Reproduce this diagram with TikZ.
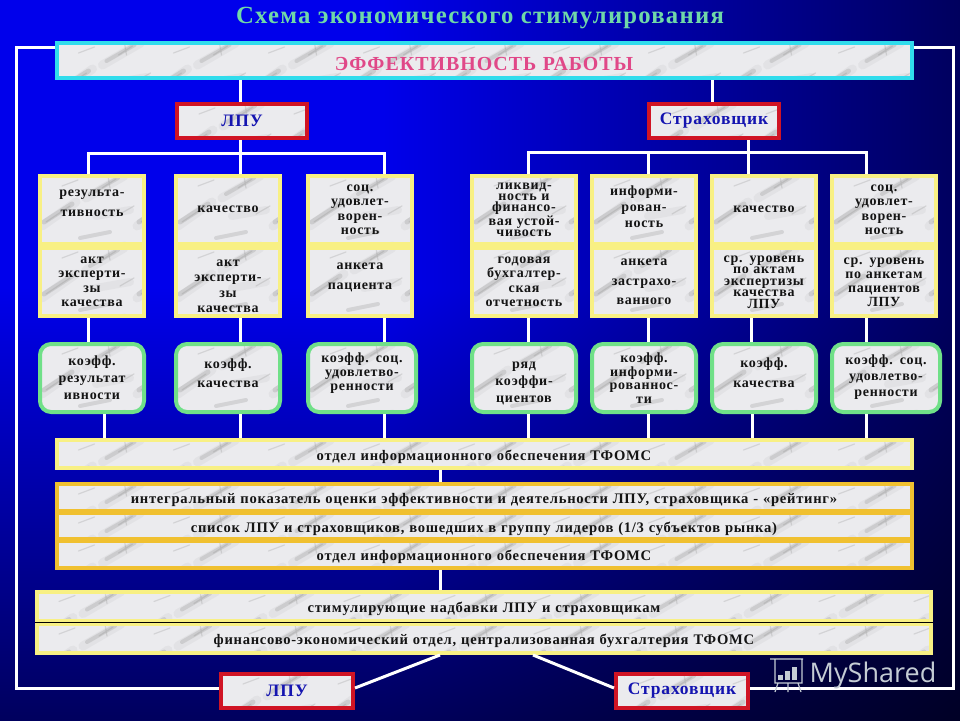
\documentclass[tikz,border=0pt]{standalone}
\usepackage{fontspec}
\setmainfont[LetterSpace=5]{Liberation Serif}
\newfontfamily\markfont{Open Sans}
\usetikzlibrary{positioning}
\definecolor{marblebase}{HTML}{EBEBEE}
\definecolor{cyanline}{HTML}{30DCEC}
\definecolor{redline}{HTML}{D01424}
\definecolor{yellowline}{HTML}{F8F084}
\definecolor{orangeline}{HTML}{F0C030}
\definecolor{greenline}{HTML}{70E088}
\definecolor{titlecolor}{HTML}{70D8A8}
\definecolor{pinktext}{HTML}{E04888}
\definecolor{navytext}{HTML}{1414B0}
\definecolor{marktext}{HTML}{C4CCD4}
\pgfdeclarefunctionalshading{slidebg}{\pgfpoint{0bp}{0bp}}{\pgfpoint{100bp}{100bp}}{}{
  exch 100 div 0.95 exch sub 0.5 div dup 0 lt {pop 0} if dup 1 gt {pop 1} if
  exch 100 div 0.05 sub 0.5 div dup 0 lt {pop 0} if dup 1 gt {pop 1} if
  mul 0.92 mul 0 exch 0 exch
}
\newcommand{\marbletile}{
  \draw[streak,line width=9pt,opacity=.08] (2,50) -- (36,26);
  \draw[streak,line width=5pt] (4,46) -- (32,28);
  \draw[streak] (6,46) -- (30,30);
  \draw[streak,line width=9pt,opacity=.08] (46,22) -- (84,0);
  \draw[streak,line width=4pt] (50,18) -- (78,2);
  \draw[streak] (62,12) -- (76,3) (68,0) -- (70,12);
  \draw[streak,line width=4pt] (40,62) -- (70,56);
  \draw[streak,line width=8pt,opacity=.08] (56,40) -- (90,34);
  \draw[streak] (80,38) -- (94,30);
  \draw[streak] (22,10) -- (38,4);
}
\tikzset{
  streak/.style={draw=gray,opacity=.22,line width=1.2pt,line cap=round},
  marble/.style={fill=marblebase,path picture={
    \foreach \tx in {0,95,...,855}
      \foreach \ty in {0,70} {
        \begin{scope}
          \pgftransformshift{\pgfpointanchor{path picture bounding box}{north west}}
          \pgftransformshift{\pgfpoint{\tx pt}{-\ty pt}}
          \marbletile
        \end{scope}
      }}},
  boxtext/.style={font=\fontsize{14}{#1}\selectfont\bfseries,text=black!92,align=center},
  boxtext/.default=15,
  up/.style={execute at end node={\par\vspace*{#1pt}}},
  down/.style={execute at begin node={\vspace*{#1pt}\par}},
  cell/.style={rectangle,draw=yellowline,line width=4pt,marble,inner sep=0pt,
    minimum width=104pt,minimum height=68pt,text width=104pt,boxtext=#1},
  cell/.default=15,
  coeff/.style={cell=#1,draw=greenline,rounded corners=11pt},
  coeff/.default=15,
  bar/.style={rectangle,draw=yellowline,line width=4pt,marble,inner sep=0pt,
    minimum width=855pt,minimum height=28pt,text width=800pt,align=center,down=0,
    font=\fontsize{14.6}{16}\selectfont\bfseries,text=black!92},
  head/.style={rectangle,draw=redline,line width=4pt,marble,inner sep=0pt,
    minimum width=130pt,minimum height=34pt,
    font=\fontsize{17.5}{19}\selectfont\bfseries,text=navytext},
  wire/.style={draw=white,line width=3pt},
}
\begin{document}
\begin{tikzpicture}[x=1pt,y=-1pt]
  \useasboundingbox (0,0) rectangle (960,720);
  \shade[shading=slidebg] (0,0) rectangle (960,720);

  \node (title) at (480,18) [font=\fontsize{24.7}{26}\selectfont\bfseries,text=titlecolor] {Схема экономического стимулирования};

  \node (eff) at (484,60.5) [rectangle,draw=cyanline,line width=4pt,marble,inner sep=0pt,minimum width=855pt,minimum height=35pt,
    text width=800pt,align=center,down=0,font=\fontsize{19.9}{21}\selectfont\bfseries,text=pinktext] {ЭФФЕКТИВНОСТЬ РАБОТЫ};
  \node[head] (lpuT) at (242,121) {ЛПУ};
  \node[head] (insT) at (714,121) {Страховщик};

  % left columns
  \node[cell=20,up=14] (a1) at (92,210) {результа-\\тивность};
  \node[cell,up=2] (a2) at (228,210) {качество};
  \node[cell=14.5] (a3) at (360,210) {соц.\\удовлет-\\ворен-\\ность};
  \node[cell=14.5] (b1) at (92,282) {акт\\эксперти-\\зы\\качества};
  \node[cell=15.5,down=0] (b2) at (228,282) {акт\\эксперти-\\зы\\качества};
  \node[cell=20,up=10] (b3) at (360,282) {анкета\\пациента};
  % right columns
  \node[cell=11.3] (a4) at (524,210) {ликвид-\\ность и\\финансо-\\вая устой-\\чивость};
  \node[cell=16,up=6] (a5) at (644,210) {информи-\\рован-\\ность};
  \node[cell,up=2] (a6) at (764,210) {качество};
  \node[cell=14.5] (a7) at (884,210) {соц.\\удовлет-\\ворен-\\ность};
  \node[cell=14.5] (b4) at (524,282) {годовая\\бухгалтер-\\ская\\отчетность};
  \node[cell=19.5] (b5) at (644,282) {анкета\\застрахо-\\ванного};
  \node[cell=11.5] (b6) at (764,282) {ср. уровень\\по актам\\экспертизы\\качества\\ЛПУ};
  \node[cell=14] (b7) at (884,282) {ср. уровень\\по анкетам\\пациентов\\ЛПУ};
  % coefficients
  \node[coeff=17] (c1) at (92,378) {коэфф.\\результат\\ивности};
  \node[coeff=19,up=10] (c2) at (228,378) {коэфф.\\качества};
  \node[coeff=14,minimum width=108pt,up=10] (c3) at (362,378) {коэфф. соц.\\удовлетво-\\ренности};
  \node[coeff=17,down=0] (c4) at (524,378) {ряд\\коэффи-\\циентов};
  \node[coeff=13.5] (c5) at (644,378) {коэфф.\\информи-\\рованнос-\\ти};
  \node[coeff=20,up=10] (c6) at (764,378) {коэфф.\\качества};
  \node[coeff=16,minimum width=108pt,up=2] (c7) at (886,378) {коэфф. соц.\\удовлетво-\\ренности};

  \node[bar] (dep) at (484,454) {отдел информационного обеспечения ТФОМС};

  \node[bar,draw=orangeline,minimum height=27pt] (rate) at (484,497.5) {интегральный показатель оценки эффективности и деятельности ЛПУ, страховщика - «рейтинг»};
  \node[bar,draw=orangeline,minimum height=26pt] (list) at (484,526) {список ЛПУ и страховщиков, вошедших в группу лидеров (1/3 субъектов рынка)};
  \node[bar,draw=orangeline,minimum height=27pt] (dep2) at (484,554.5) {отдел информационного обеспечения ТФОМС};

  \node[bar,minimum width=894pt,minimum height=29pt] (stim) at (484,606) {стимулирующие надбавки ЛПУ и страховщикам};
  \node[bar,minimum width=894pt,minimum height=29pt] (fin) at (484,638.5) {финансово-экономический отдел, централизованная бухгалтерия ТФОМС};
  \draw[black,line width=.8pt] (stim.south west) -- (stim.south east);

  \node[head,minimum width=132pt] (lpuB) at (287,691) {ЛПУ};
  \node[head,minimum width=132pt] (insB) at (682,691) {Страховщик};

  % wires
  \draw[wire] (eff.west |- 0,47) -- (16,47) -- (16,688) -- (lpuB.west |- 0,688);
  \draw[wire] (eff.east |- 0,47) -- (953,47) -- (953,688) -- (insB.east |- 0,688);
  \draw[wire] (eff.south -| 240,0) -- (lpuT.north -| 240,0);
  \draw[wire] (eff.south -| 712,0) -- (insT.north -| 712,0);
  \draw[wire] (a1.north -| 88,0) -- (88,153) -- (384,153) -- (a3.north -| 384,0);
  \draw[wire] (lpuT.south -| 240,0) -- (a2.north -| 240,0);
  \draw[wire] (a4.north -| 528,0) -- (528,152) -- (866,152) -- (a7.north -| 866,0);
  \draw[wire] (a5.north -| 648,0) -- (648,152);
  \draw[wire] (insT.south -| 748,0) -- (a6.north -| 748,0);
  \foreach \i/\xa/\xb in {1/88/104,2/240/240,3/384/384,4/528/528,5/648/648,6/751/752,7/866/866}{
    \draw[wire] (b\i.south -| \xa,0) -- (c\i.north -| \xa,0);
    \draw[wire] (c\i.south -| \xb,0) -- (dep.north -| \xb,0);
  }
  \draw[wire] (dep.south -| 440,0) -- (rate.north -| 440,0);
  \draw[wire] (dep2.south -| 440,0) -- (stim.north -| 440,0);
  \draw[wire] (fin.south -| 440,0) -- (lpuB.east |- 0,688);
  \draw[wire] (fin.south -| 533,0) -- (insB.west |- 0,688);

  % logo
  \node (logo) at (873,675) [font=\markfont\fontsize{27}{29}\selectfont,text=marktext] {MyShared};
  \draw[marktext,line width=1.2pt] (770,659) -- (803,659) (775,659) -- (775,683) -- (802,683) -- (802,659)
    (778,683) -- (775,692) (798,683) -- (801,692) (788,683) -- (788,692);
  \foreach \x/\h in {778/5,785/9,792/13}
    \fill[marktext] (\x,680) rectangle (\x+5,680-\h);
\end{tikzpicture}
\end{document}
